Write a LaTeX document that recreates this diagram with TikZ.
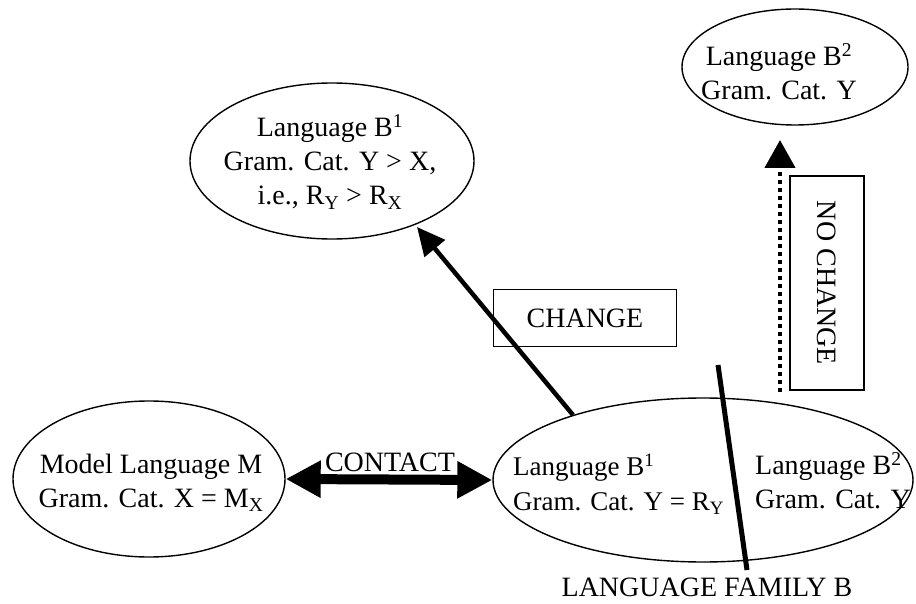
\documentclass[tikz,border=0pt]{standalone}
\usepackage{fontspec}
\setmainfont{Liberation Serif}
\usetikzlibrary{arrows.meta, shapes.geometric}
\usepackage{xcolor}

\begin{document}
\begin{tikzpicture}[x=1pt,y=-1pt,font=\fontsize{28}{34}\selectfont]
    \tikzstyle{lang}=[ellipse, draw=black, line width=1.4pt, inner sep=0pt]
    \tikzstyle{txt}=[align=center, inner sep=0pt]
    \tikzstyle{tag}=[draw=black, line width=1.3pt, rectangle, inner sep=0pt]
    \tikzstyle{big arrow}=[line width=4.5pt, -{Triangle[length=28pt,width=26pt]}]

    \useasboundingbox (0,0) rectangle (916,604);

    % the four language ellipses: name / x / y / width / height
	\foreach \n/\x/\y/\w/\h in {M/149/479/272/156, F/703/480/420/164, B1/332/161/284/156, B2/795/67/226/116}{
		\node[lang, minimum width=\w pt, minimum height=\h pt] (\n) at (\x,\y) {};
	}

	\node[txt] (M-txt) at (151,483) {Model Language M\\Gram. Cat. X = M\textsubscript{X}};
	\node[txt, anchor=west, align=left, font=\fontsize{27}{35}\selectfont] (F1-txt) at (513,484) {Language B\textsuperscript{1}\\Gram. Cat. Y = R\textsubscript{Y}};
	\node[txt, anchor=west, align=left] (F2-txt) at (755,481) {Language B\textsuperscript{2}\\Gram. Cat. Y};
	\node[txt] (B1-txt) at (330,162) {Language B\textsuperscript{1}\\Gram. Cat. Y > X,\\i.e., R\textsubscript{Y} > R\textsubscript{X}};
	\node[txt] (B2-txt) at (779,72) {Language B\textsuperscript{2}\\Gram. Cat. Y};

%    \node[txt] (fam) at (707,592) {};
	\node[txt, anchor=base] (fam) at (707,596) {LANGUAGE FAMILY B};

	% contact between M and B1
	\draw[line width=10pt, {Triangle[length=35pt,width=35pt]}-{Triangle[length=35pt,width=35pt]}] (M.east) -- (F.west);
	\node[txt, anchor=base, fill=white, inner sep=1pt] (contact) at (390,471) {CONTACT};

	% change
	\coordinate (chg-from) at (573,415);
	\coordinate (chg-to) at (417,227);
	\draw[big arrow] (chg-from) -- (chg-to);
	\node[tag, minimum width=183pt, minimum height=57pt] (chg) at (585,318) {CHANGE};

	% no change
	\coordinate (nc-from) at (780,392);
	\coordinate (nc-to) at (780,140);
	\draw[line width=4.5pt, dash pattern=on 4pt off 4pt, -{Triangle[length=28pt,width=30pt]}] (nc-from) -- (nc-to);
	\node[tag, rotate=-90, minimum width=214pt, minimum height=74pt] (nc) at (827,283) {NO CHANGE};

	% family split
	\coordinate (cut-top) at (718,365);
	\coordinate (cut-bot) at (747,570);
	\draw[line width=5pt] (cut-top) -- (cut-bot);
\end{tikzpicture}
\end{document}
